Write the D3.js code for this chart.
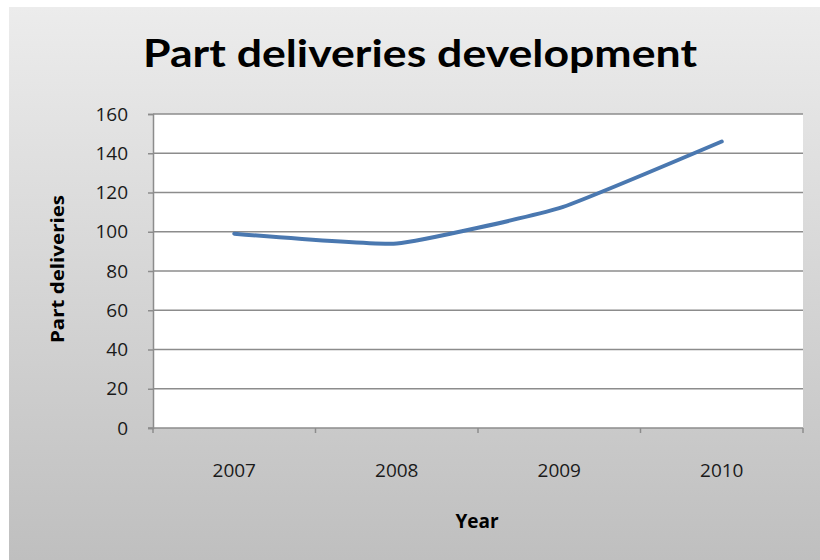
<!DOCTYPE html>
<html>
<head>
<meta charset="utf-8">
<script src="https://cdn.jsdelivr.net/npm/d3@7"></script>
<style>
    body { margin: 0; background: #fff; }
    #chart { width: 820px; height: 560px; }
    text { font-family: "Open Sans", Lato, sans-serif; }
</style>
</head>
<body>
<div id="chart"></div>
<script>
// Chart data
const years = ['2007', '2008', '2009', '2010'];
const deliveries = [99, 94, 112, 146];
const yTicks = [0, 20, 40, 60, 80, 100, 120, 140, 160];

function createChart() {
    const width = 820;
    const height = 560;

    // Plot area box
    const plot = {left: 153, top: 114, right: 803, bottom: 428};

    const svg = d3.select('#chart')
        .append('svg')
        .attr('width', width)
        .attr('height', height);

    // Gray gradient background
    const grad = svg.append('defs').append('linearGradient')
        .attr('id', 'bg')
        .attr('x1', 0).attr('y1', 0).attr('x2', 0).attr('y2', 1);
    grad.append('stop').attr('offset', '0%').attr('stop-color', '#ececec');
    grad.append('stop').attr('offset', '100%').attr('stop-color', '#bfbfbf');

    svg.append('rect')
        .attr('x', 9)
        .attr('y', 7)
        .attr('width', width - 9)
        .attr('height', height - 7)
        .attr('fill', 'url(#bg)');

    // Scales
    const xScale = d3.scaleBand()
        .domain(years)
        .range([plot.left, plot.right]);

    const yScale = d3.scaleLinear()
        .domain([0, 160])
        .range([plot.bottom, plot.top]);

    // White plot area
    svg.append('rect')
        .attr('x', plot.left)
        .attr('y', plot.top)
        .attr('width', plot.right - plot.left)
        .attr('height', plot.bottom - plot.top)
        .attr('fill', '#fff');

    // Gridlines
    svg.append('g')
        .selectAll('line')
        .data(yTicks.filter(d => d > 0))
        .enter()
        .append('line')
        .attr('x1', plot.left)
        .attr('x2', plot.right)
        .attr('y1', d => yScale(d))
        .attr('y2', d => yScale(d))
        .attr('stroke', '#8c8c8c')
        .attr('stroke-width', 1.5);

    // Y axis
    const yAxis = d3.axisLeft(yScale)
        .tickValues(yTicks)
        .tickSize(5)
        .tickPadding(20);

    const gy = svg.append('g')
        .attr('transform', `translate(${plot.left},0)`)
        .call(yAxis);
    gy.select('.domain').attr('stroke', '#8c8c8c').attr('stroke-width', 1.5);
    gy.selectAll('.tick line').attr('stroke', '#8c8c8c').attr('stroke-width', 1.5);
    gy.selectAll('.tick text')
        .attr('fill', '#1a1a1a')
        .style('font-family', '"Open Sans", sans-serif')
        .style('font-size', '19px');

    // X axis line with ticks at the band edges
    svg.append('line')
        .attr('x1', plot.left - 5)
        .attr('x2', plot.right)
        .attr('y1', plot.bottom)
        .attr('y2', plot.bottom)
        .attr('stroke', '#8c8c8c')
        .attr('stroke-width', 1.5);

    const edges = years.map(d => xScale(d)).concat([plot.right]);
    svg.append('g')
        .selectAll('line')
        .data(edges)
        .enter()
        .append('line')
        .attr('x1', d => d)
        .attr('x2', d => d)
        .attr('y1', plot.bottom)
        .attr('y2', plot.bottom + 5)
        .attr('stroke', '#8c8c8c')
        .attr('stroke-width', 1.5);

    svg.append('g')
        .selectAll('text')
        .data(years)
        .enter()
        .append('text')
        .attr('x', d => xScale(d) + xScale.bandwidth() / 2)
        .attr('y', 477)
        .attr('text-anchor', 'middle')
        .attr('fill', '#1a1a1a')
        .style('font-size', '19px')
        .text(d => d);

    // Line (lightly smoothed, like the original)
    const line = d3.line()
        .x((d, i) => xScale(years[i]) + xScale.bandwidth() / 2)
        .y(d => yScale(d))
        .curve(d3.curveCardinal.tension(0.6));

    svg.append('path')
        .datum(deliveries)
        .attr('d', line)
        .attr('fill', 'none')
        .attr('stroke', '#4a78b0')
        .attr('stroke-width', 4)
        .attr('stroke-linecap', 'round');

    // Title
    svg.append('text')
        .attr('x', 420)
        .attr('y', 67)
        .attr('text-anchor', 'middle')
        .attr('fill', '#000')
        .style('font-family', 'Lato, sans-serif')
        .style('font-size', '38px')
        .style('font-weight', 'bold')
        .attr('textLength', 554)
        .attr('lengthAdjust', 'spacingAndGlyphs')
        .text('Part deliveries development');

    // Axis titles
    svg.append('text')
        .attr('transform', `translate(64,${(plot.top + plot.bottom) / 2 - 2}) rotate(-90)`)
        .attr('text-anchor', 'middle')
        .attr('fill', '#000')
        .style('font-size', '18px')
        .style('font-weight', 'bold')
        .attr('textLength', 148)
        .attr('lengthAdjust', 'spacingAndGlyphs')
        .text('Part deliveries');

    svg.append('text')
        .attr('x', 477)
        .attr('y', 528)
        .attr('text-anchor', 'middle')
        .attr('fill', '#000')
        .style('font-size', '19px')
        .style('font-weight', 'bold')
        .text('Year');
}

document.addEventListener('DOMContentLoaded', createChart);
</script>
</body>
</html>
